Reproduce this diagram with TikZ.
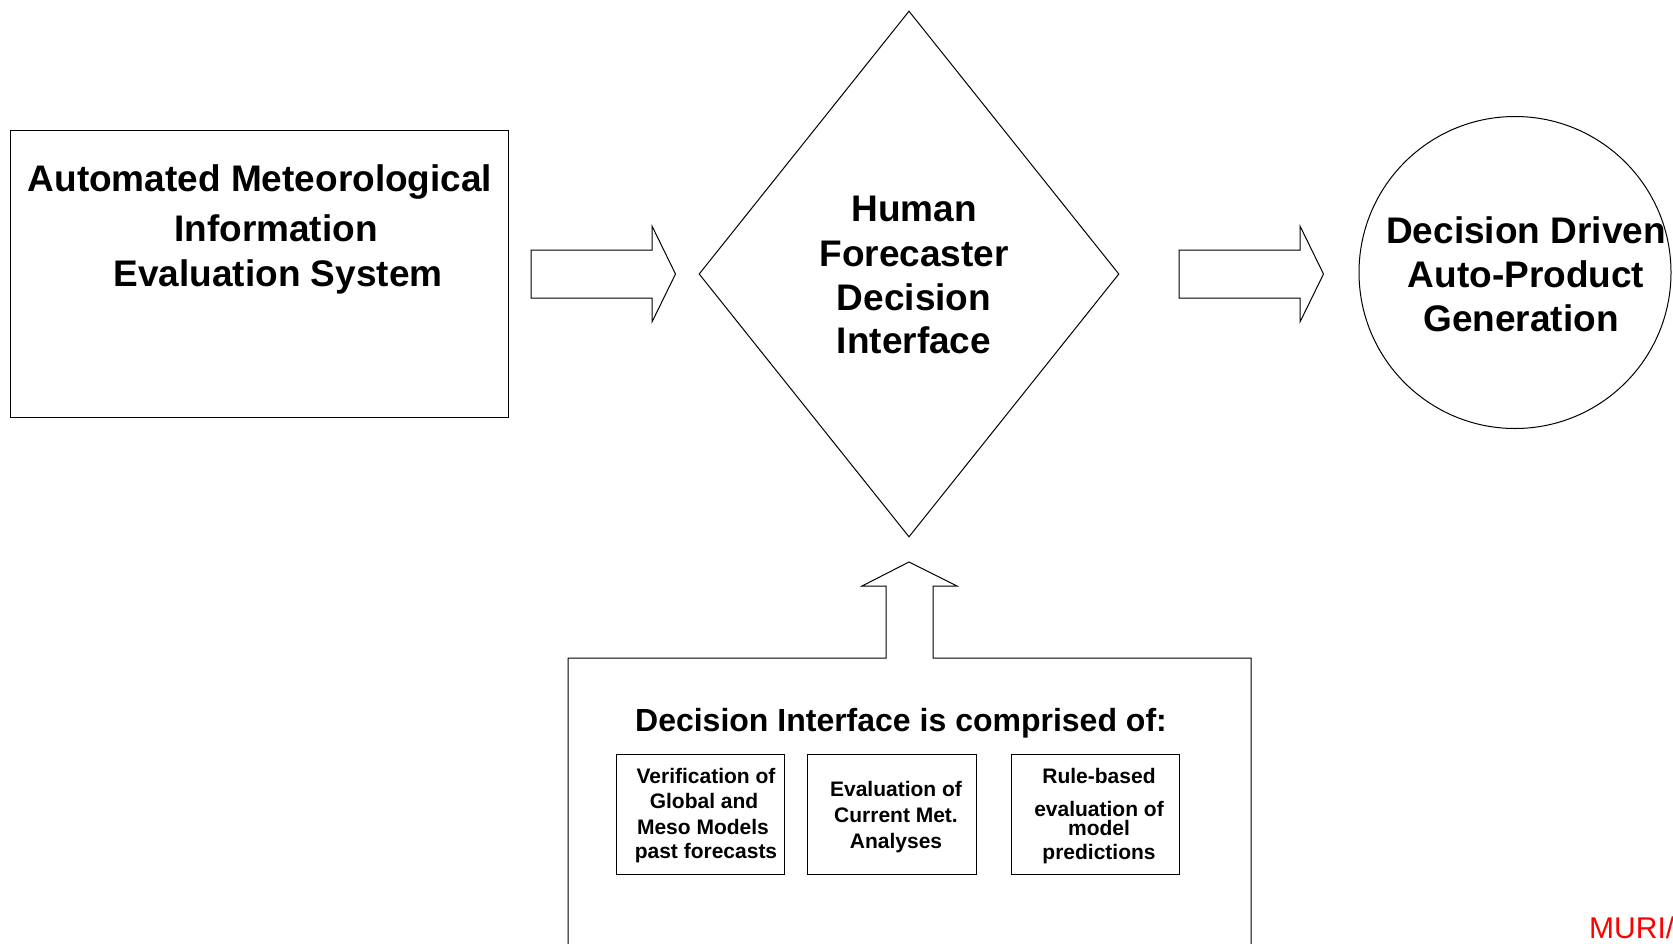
\documentclass[tikz,border=0pt]{standalone}
\usepackage{fontspec}
\setmainfont{Liberation Sans}
\usetikzlibrary{shapes.geometric}
\begin{document}
\begin{tikzpicture}[x=1pt,y=-1pt,
  shapeline/.style={draw=black, line width=1pt},
  big/.style={font=\fontsize{37pt}{44pt}\selectfont\bfseries, inner sep=0pt, anchor=base},
  headtext/.style={font=\fontsize{32pt}{38pt}\selectfont\bfseries, inner sep=0pt, anchor=base},
  small/.style={font=\fontsize{21pt}{25pt}\selectfont\bfseries, inner sep=0pt, anchor=base},
  smallbox/.style={shapeline, rectangle, minimum width=168pt, minimum height=120pt, inner sep=0pt},
  ]
\useasboundingbox (0,0) rectangle (1673,943);
\fill[white] (0,0) rectangle (1673,943);
\clip (0,0) rectangle (1673,943);

% main shapes
\node[shapeline, rectangle, minimum width=498pt, minimum height=287pt, inner sep=0pt] (ames) at (259,273.5) {};
\node[shapeline, diamond, minimum width=420pt, minimum height=526pt, inner sep=0pt] (hfdi) at (909,274) {};
\node[shapeline, circle, minimum size=312pt, inner sep=0pt] (ddapg) at (1515,272.5) {};

% block arrows
\draw[shapeline] (531,250) -- (652,250) -- (652,226) -- (675.5,274) -- (652,322) -- (652,298) -- (531,298) -- cycle;
\draw[shapeline] (1179,250) -- (1300,250) -- (1300,226) -- (1323.5,274) -- (1300,322) -- (1300,298) -- (1179,298) -- cycle;

% bottom container with upward arrow
\draw[shapeline] (568,960) -- (568,658) -- (886,658) -- (886,586) -- (862,586) -- (909,562) -- (957,586) -- (933,586) -- (933,658) -- (1251,658) -- (1251,960);

% small boxes
\node[smallbox] (vgm) at (700.5,814) {};
\node[smallbox, minimum width=169pt] (ecma) at (891.5,814) {};
\node[smallbox] (rbe) at (1095,814) {};

% texts: left box
\node[big] (a1) at (260,191.5) {Automated Meteorological};
\node[big] (a2) at (276,241) {Information};
\node[big] (a3) at (278,286) {Evaluation System};

% diamond
\node[big] (h1) at (914,221) {Human};
\node[big] (h2) at (914,266) {Forecaster};
\node[big] (h3) at (914,310) {Decision};
\node[big] (h4) at (914,353) {Interface};

% circle
\node[big] (d1) at (1526,243.5) {Decision Driven};
\node[big] (d2) at (1526,287.5) {Auto-Product};
\node[big] (d3) at (1521,331.5) {Generation};

% heading
\node[headtext] (dic) at (901,731) {Decision Interface is comprised of:};

% small box texts
\node[small] (v1) at (706,783) {Verification of};
\node[small] (v2) at (704,808) {Global and};
\node[small] (v3) at (703,834) {Meso Models};
\node[small] (v4) at (706,858) {past forecasts};

\node[small] (e1) at (896,796) {Evaluation of};
\node[small] (e2) at (896,822) {Current Met.};
\node[small] (e3) at (896,848) {Analyses};

\node[small] (r1) at (1099,783) {Rule-based};
\node[small] (r2) at (1099,816) {evaluation of};
\node[small] (r3) at (1099,835) {model};
\node[small] (r4) at (1099,859) {predictions};

% footer
\node[font=\fontsize{30pt}{36pt}\selectfont, text=red, anchor=base west, inner sep=0pt] (muri) at (1589,938) {MURI/};
\end{tikzpicture}
\end{document}
